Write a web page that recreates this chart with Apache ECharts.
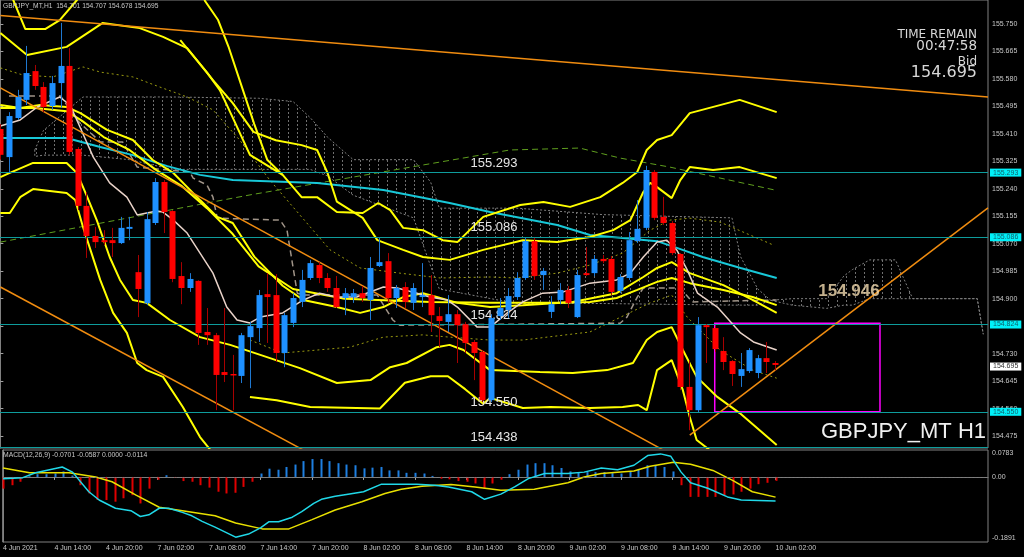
<!DOCTYPE html>
<html><head><meta charset="utf-8">
<script src="https://cdn.jsdelivr.net/npm/echarts/dist/echarts.min.js"></script>
<style>html,body{margin:0;padding:0;background:#000;}#c{width:1024px;height:557px;}</style>
</head><body><div id="c"></div><script>
// ---------- DATA ----------
const timeLabels = ['4 Jun 2021','4 Jun 14:00','4 Jun 20:00','7 Jun 02:00','7 Jun 08:00','7 Jun 14:00','7 Jun 20:00','8 Jun 02:00','8 Jun 08:00','8 Jun 14:00','8 Jun 20:00','9 Jun 02:00','9 Jun 08:00','9 Jun 14:00','9 Jun 20:00','10 Jun 02:00'];
const timeTickIdx = [0,6,12,18,24,30,36,42,48,54,60,66,72,78,84,90];
const priceTicks = [155.750,155.665,155.580,155.495,155.410,155.325,155.240,155.155,155.070,154.985,154.900,154.815,154.730,154.645,154.560,154.475];
// [open, high, low, close] per hourly bar
const ohlc = [
[155.425,155.440,155.330,155.345],[155.338,155.477,155.289,155.465],[155.459,155.546,155.453,155.524],[155.515,155.682,155.499,155.598],
[155.604,155.623,155.546,155.558],[155.555,155.570,155.477,155.493],[155.496,155.589,155.484,155.567],[155.567,155.753,155.490,155.620],
[155.620,155.675,155.344,155.354],[155.363,155.369,155.174,155.187],[155.187,155.230,155.026,155.094],[155.094,155.122,155.057,155.075],
[155.081,155.112,155.066,155.075],[155.081,155.119,155.029,155.072],[155.072,155.153,155.069,155.119],[155.116,155.153,155.081,155.122],
[154.982,155.035,154.843,154.930],[154.886,155.168,154.880,155.146],[155.134,155.273,155.128,155.261],[155.261,155.267,155.103,155.168],
[155.171,155.174,154.951,154.961],[154.970,155.013,154.883,154.933],[154.933,154.979,154.921,154.961],[154.955,154.957,154.757,154.794],
[154.797,154.871,154.757,154.787],[154.787,154.794,154.555,154.664],[154.673,154.871,154.642,154.664],[154.667,154.726,154.555,154.664],
[154.661,154.794,154.639,154.787],[154.781,154.828,154.623,154.815],[154.809,154.927,154.766,154.911],[154.914,154.979,154.763,154.905],
[154.911,154.976,154.704,154.732],[154.732,154.856,154.688,154.849],[154.825,154.917,154.812,154.902],[154.890,154.989,154.874,154.958],
[154.964,155.020,154.958,155.010],[155.004,155.013,154.948,154.964],[154.964,154.979,154.921,154.933],[154.933,154.970,154.871,154.874],
[154.902,154.933,154.849,154.917],[154.905,154.930,154.887,154.917],[154.917,154.939,154.890,154.902],[154.896,155.029,154.834,154.995],
[155.001,155.088,154.998,155.013],[155.016,155.041,154.887,154.902],[154.902,154.942,154.871,154.933],[154.936,154.951,154.871,154.890],
[154.887,154.948,154.865,154.933],[154.905,155.010,154.874,154.911],[154.911,154.973,154.797,154.849],[154.846,154.874,154.750,154.831],
[154.828,154.911,154.797,154.852],[154.852,154.865,154.701,154.818],[154.821,154.828,154.732,154.763],[154.766,154.772,154.648,154.732],
[154.735,154.741,154.580,154.586],[154.586,154.852,154.580,154.840],[154.846,154.902,154.834,154.871],[154.865,154.933,154.840,154.908],
[154.905,154.982,154.896,154.964],[154.964,155.088,154.958,155.078],[155.078,155.088,154.958,154.970],[154.973,154.995,154.927,154.986],
[154.859,154.908,154.840,154.883],[154.896,154.948,154.883,154.927],[154.927,154.939,154.871,154.887],[154.843,154.989,154.840,154.973],
[154.979,155.060,154.970,154.973],[154.979,155.035,154.970,155.023],[155.023,155.035,155.010,155.016],[155.023,155.032,154.911,154.921],
[154.924,154.976,154.917,154.967],[154.964,155.106,154.958,155.081],[155.078,155.205,155.072,155.116],[155.119,155.311,155.112,155.298],
[155.292,155.298,155.143,155.150],[155.153,155.215,155.128,155.134],[155.134,155.140,155.035,155.041],[155.038,155.041,154.617,154.627],
[154.627,154.710,154.493,154.555],[154.555,154.843,154.549,154.818],[154.818,154.821,154.701,154.812],[154.809,154.815,154.735,154.744],
[154.738,154.781,154.679,154.704],[154.707,154.710,154.630,154.667],[154.661,154.732,154.627,154.682],[154.676,154.747,154.670,154.741],
[154.670,154.726,154.654,154.716],[154.716,154.766,154.670,154.704],[154.701,154.707,154.678,154.695]
];
const osma = [-0.034,-0.024,-0.014,0.002,0.008,0.008,0.010,0.016,0.004,-0.024,-0.048,-0.067,-0.067,-0.072,-0.062,-0.053,-0.077,-0.034,-0.008,0.005,
-0.003,-0.012,-0.014,-0.024,-0.031,-0.043,-0.048,-0.046,-0.029,-0.014,0.010,0.024,0.021,0.029,0.036,0.046,0.052,0.052,0.046,0.040,
0.036,0.034,0.025,0.027,0.029,0.019,0.019,0.012,0.012,0.010,0.003,-0.005,-0.007,-0.012,-0.014,-0.019,-0.034,-0.019,-0.008,0.008,
0.021,0.036,0.040,0.040,0.034,0.026,0.016,0.014,0.014,0.014,0.014,0.011,0.010,0.016,0.021,0.034,0.034,0.029,0.016,-0.024,
-0.058,-0.058,-0.058,-0.058,-0.053,-0.051,-0.043,-0.034,-0.021,-0.017,-0.0114];
const macdMain = [[0,-0.005],[2.3,-0.002],[3.8,0.012],[6.9,0.029],[8.1,0.014],[10,-0.043],[11.2,-0.067],[13.1,-0.091],[14.9,-0.098],[16,-0.115],[17,-0.110],[18.2,-0.091],[19.3,-0.091],[20.9,-0.103],[22,-0.113],[23.2,-0.129],[24.7,-0.146],[27.1,-0.175],[28.6,-0.166],[30,-0.148],[31,-0.130],[32.1,-0.130],[33.7,-0.117],[34.8,-0.101],[36.2,-0.077],[37.1,-0.065],[38.7,-0.056],[40.2,-0.050],[42,-0.043],[44.1,-0.021],[48.2,-0.021],[50.3,-0.024],[51.9,-0.029],[54.6,-0.043],[56.1,-0.065],[58,-0.050],[59.6,-0.029],[61.2,-0.005],[63.1,0.010],[65.8,0.010],[67.7,0.014],[69.7,0.026],[71.6,0.021],[73.5,0.034],[75.1,0.062],[76.6,0.067],[77.8,0.060],[79,0.014],[80.1,-0.017],[82.1,-0.033],[84.4,-0.058],[86,-0.067],[90,-0.0701]];
const macdSignal = [[0,0.026],[3.1,0.012],[7.7,0.012],[10.8,0],[12.7,-0.014],[15.5,-0.053],[18.2,-0.088],[20.9,-0.098],[24.7,-0.113],[27.1,-0.134],[30.2,-0.151],[33.3,-0.151],[36,-0.124],[38.7,-0.096],[41.8,-0.072],[44.5,-0.048],[46.4,-0.036],[48.8,-0.027],[52.2,-0.022],[55,-0.029],[58,-0.039],[61.9,-0.036],[65.8,-0.017],[67.7,0],[69.7,0.010],[73.5,0.017],[75.4,0.031],[78.1,0.043],[80.1,0.037],[82.7,0.019],[85,-0.010],[87.3,-0.043],[90,-0.0587]];
const levels = [155.293,155.086,154.824,154.550,154.438];
const tagLevels = [155.293,155.086,154.824,154.550];
const bidPrice = 154.695;
const zoneBox = [[83,154.824],[102.2,154.550]];
const maFast = [[0,155.434],[2.3,155.453],[4.3,155.493],[6.9,155.524],[8.1,155.499],[9.3,155.428],[10.8,155.338],[12.7,155.258],[14.7,155.214],[15.9,155.159],[17,155.165],[18.2,155.171],[18.9,155.168],[20.1,155.143],[21.7,155.103],[23.2,155.041],[24.7,154.979],[26.3,154.874],[27.5,154.834],[29,154.825],[30.2,154.843],[32.8,154.856],[35.2,154.896],[37.1,154.917],[39.1,154.905],[41.4,154.905],[44.5,154.936],[46.1,154.933],[48.4,154.917],[49.9,154.905],[51.9,154.896],[53.1,154.874],[55.4,154.812],[56.9,154.812],[58.9,154.856],[60.7,154.890],[63,154.917],[65.4,154.921],[68.5,154.948],[71.6,154.958],[73.2,154.979],[74.7,155.029],[76.3,155.075],[77.4,155.081],[78.6,155.050],[79.8,154.989],[81,154.917],[83.3,154.874],[86,154.794],[87.5,154.766],[90.2,154.741]];
const maSlow = [[0,155.397],[7.7,155.397],[11.6,155.369],[15.4,155.344],[19.4,155.310],[23.2,155.283],[27,155.267],[30.2,155.264],[36.8,155.258],[44.5,155.236],[52.2,155.196],[56.9,155.168],[64.7,155.128],[68.5,155.097],[72.3,155.088],[76.3,155.078],[78.6,155.057],[81.6,155.029],[86,154.995],[90.2,154.964]];
const maGreen = [[0,155.075],[29,155.221],[59.2,155.360],[67.3,155.366],[72,155.335],[77.8,155.307],[90,155.236]];
const kijun = [[1,155.527],[7,155.527],[9,155.45],[11.6,155.385],[14.2,155.385],[15.9,155.307],[22,155.292],[22.4,155.273],[24,155.252],[24.7,155.214],[25.2,155.149],[32.5,155.143],[33.3,155.112],[34.5,154.917],[35.2,154.911],[43.8,154.911],[45.6,154.834],[46.4,154.818],[72,154.824],[72.8,154.843],[74,154.905],[74.7,154.933],[79,154.933],[80.4,154.890],[90.2,154.896]];
const envUpper = [[0,155.614],[2.6,155.592],[6.1,155.586],[9.6,155.617],[11.6,155.601],[15.4,155.586],[18.5,155.555],[21.7,155.524],[24.7,155.484],[27.8,155.391],[31.3,155.267],[34.8,155.159],[38.3,155.051],[41.8,154.995],[46.4,154.979],[51.1,154.964],[56.9,154.967],[60,154.964],[64.7,154.979],[68.5,155.004],[72.3,155.041],[75.5,155.112],[77.8,155.143],[80.1,155.149],[83.6,155.137],[89.8,155.066]];
const envLower = [[29,154.772],[32.8,154.732],[36.8,154.741],[40.6,154.750],[44.5,154.781],[49.1,154.788],[52.2,154.781],[56.9,154.772],[60.7,154.772],[68.5,154.797],[75.5,154.887],[78,154.911],[79.8,154.843],[83.6,154.741],[87.4,154.679],[90.2,154.654]];
const bbUp3 = [[0,155.90],[1.5,155.824],[2.9,155.734],[5.2,155.734],[6.9,155.762],[8.9,155.824],[10,155.90]];
const bbUp3a = [[23.7,155.824],[25.3,155.762],[26.5,155.68],[28,155.56],[29.5,155.44],[31,155.33],[32.8,155.283]];
const bbUp3b = [[20.9,155.70],[24,155.60],[25.5,155.545],[27,155.46],[29,155.345],[32.8,155.283],[35,155.214],[36.8,155.214],[39.1,155.168],[42.1,155.165],[43.9,155.196],[45.3,155.174],[46.8,155.119],[49.1,155.112],[51.4,155.081],[53.1,155.075],[56.1,155.153],[60.4,155.190],[63.1,155.199],[66.2,155.184],[69.7,155.214],[72.3,155.258],[74,155.292],[75.1,155.360],[76.3,155.391],[78,155.406],[80.1,155.474],[85.9,155.515],[90.2,155.477]];
const bbUp2 = [[0,155.722],[3.1,155.654],[7.7,155.679],[11.9,155.753],[16.2,155.737],[18.9,155.710],[21.7,155.675],[24.7,155.576],[27,155.505],[29.4,155.416],[32,155.39],[35,155.375],[36.8,155.36],[38,155.29],[39.1,155.20],[42.1,155.15],[43.8,155.081],[46.8,155.051],[49.1,155.029],[52.2,155.020],[56.1,155.051],[60.7,155.081],[64.7,155.075],[68.5,155.091],[71.2,155.112],[73.2,155.143],[74.7,155.230],[75.5,155.258],[76.3,155.245],[78,155.211],[79,155.267],[80.1,155.307],[82.8,155.298],[85.9,155.307],[90.2,155.273]];
const bbUp1 = [[0,155.499],[2.3,155.490],[4.6,155.499],[7.7,155.493],[9.3,155.474],[12.4,155.422],[15.4,155.391],[17.7,155.329],[20.1,155.289],[23.2,155.205],[25.2,155.153],[27,155.134],[29.5,155.03],[32.8,154.94],[35.2,154.896],[39.1,154.874],[41.8,154.856],[44.5,154.874],[46.8,154.905],[49.1,154.917],[50.7,154.905],[53.1,154.887],[56.9,154.874],[60.7,154.880],[66.5,154.890],[71.6,154.917],[74.7,154.967],[76.3,154.995],[78,155.013],[80.1,154.979],[84,154.942],[87.4,154.896],[90.2,154.856]];
const bbMid = [[0,155.49],[4,155.49],[7.7,155.48],[9.5,155.45],[12,155.40],[15,155.36],[18,155.30],[21,155.25],[24,155.18],[27,155.10],[30,155.0],[34,154.93],[40,154.90],[50,154.89],[56.9,154.887],[64.7,154.887],[68.5,154.890],[71.6,154.902],[74,154.927],[76.3,154.952],[78,154.964],[80.1,154.948],[84,154.927],[87.4,154.905],[90.2,154.880]];
const bbLow1 = [[0,155.276],[1.1,155.289],[3.8,155.320],[7.7,155.320],[8.9,155.289],[10.1,155.214],[11.2,155.143],[12.7,155.029],[13.9,154.958],[15.4,154.896],[17,154.887],[19.7,154.834],[23.2,154.781],[26.7,154.757],[30.2,154.726],[34.8,154.685],[39.1,154.639],[43,154.648],[45.3,154.688],[47.2,154.701],[50.7,154.750],[52.2,154.757],[53.8,154.741],[56.9,154.679],[62.7,154.673],[66.5,154.670],[70.5,154.679],[73.5,154.701],[75.1,154.772],[76.3,154.797],[78,154.812],[79.3,154.741],[80.9,154.658],[83.3,154.596],[85.9,154.546],[90.2,154.447]];
const bbLow2 = [[0,155.165],[1.1,155.165],[2.3,155.214],[3.8,155.239],[7.7,155.227],[8.7,155.205],[9.6,155.122],[11.6,154.958],[13.1,154.856],[14.7,154.794],[15.9,154.701],[17,154.679],[18.9,154.658],[21.2,154.565],[23.2,154.472],[24.4,154.432]];
const bbLow2b = [[29,154.596],[32.1,154.586],[36,154.565],[44.1,154.560],[47,154.64],[50,154.66],[52,154.66],[54,154.62],[56.1,154.575],[56.9,154.593],[60.7,154.562],[63.9,154.565],[68.5,154.562],[72.3,154.565],[74.1,154.571],[75.1,154.555],[76.3,154.679],[78,154.710],[79.3,154.617],[80.1,154.534],[80.9,154.463],[82.4,154.432]];
const trendLines = [
  [[0,155.776],[114.75,155.524]],
  [[0,155.552],[77,154.432]],
  [[0,154.936],[40,154.363]],
  [[80.1,154.478],[114.75,155.181]]
];
const cloudIdx = [4,5,9.6,15,20,30,34,36,38,41,48,50,51,60,70,85,86,88,89.5,92,96,98,99,101,104,105,106,113.5,114.2];
const cloudTop = [155.36,155.42,155.524,155.524,155.524,155.52,155.51,155.46,155.40,155.33,155.33,155.26,155.18,155.18,155.16,155.15,155.03,154.93,154.895,154.90,154.90,154.97,154.99,155.02,155.02,154.96,154.90,154.90,154.79];
const cloudBot = [155.34,155.344,155.344,155.33,155.30,155.30,155.30,155.30,155.28,155.22,155.15,155.0,154.93,154.885,154.885,154.88,154.88,154.88,154.895,154.88,154.87,154.88,154.88,154.90,154.90,154.90,154.90,154.90,154.79];
const lastLevelLabel = 154.946;

// ---------- CHART ----------
const XMIN = -0.042, XMAX = 114.75;
const chart = echarts.init(document.getElementById('c'), null, {renderer:'canvas'});
const YEL = '#ffff00';
function hatch(){const c=document.createElement('canvas');c.width=9;c.height=4;const g=c.getContext('2d');g.fillStyle='#707070';g.fillRect(0,0,1,2);return c;}
const hatchImg = hatch();
function lineSeries(data,color,width,type,z){return {type:'line',xAxisIndex:0,yAxisIndex:0,data:data,showSymbol:false,symbol:'none',silent:true,z:z||3,lineStyle:{color:color,width:width,type:type||'solid'}};}

const levelLines = [];
levels.forEach(v=>{
  levelLines.push({yAxis:v,lineStyle:{color:'#0e9c9c',width:1,type:'solid'},label:{show:true,position:'insideMiddleTop',distance:3,formatter:v.toFixed(3),color:'#e6e6e6',fontSize:13,fontFamily:'Liberation Sans'}});
});
const tagLines = [];
tagLevels.forEach(v=>{
  tagLines.push({yAxis:v,lineStyle:{color:'rgba(0,0,0,0)',width:0},label:{show:true,position:'end',distance:2,formatter:v.toFixed(3),backgroundColor:'#00f0f8',color:'#10606c',fontSize:7,fontFamily:'Liberation Sans',padding:[1,3,0,3]}});
});
tagLines.push({yAxis:bidPrice,lineStyle:{color:'rgba(0,0,0,0)',width:0},label:{show:true,position:'end',distance:2,formatter:bidPrice.toFixed(3),backgroundColor:'#ffffff',color:'#303030',fontSize:7,fontFamily:'Liberation Sans',padding:[1,3,0,3]}});

const series = [
  {type:'custom',xAxisIndex:0,yAxisIndex:0,z:1,silent:true,data:[[0]],clip:true,
   renderItem:(p,api)=>{
     const pts=[];
     for(let k=0;k<cloudIdx.length;k++) pts.push(api.coord([cloudIdx[k],cloudTop[k]]));
     for(let k=cloudIdx.length-1;k>=0;k--) pts.push(api.coord([cloudIdx[k],cloudBot[k]]));
     return {type:'polygon',shape:{points:pts},style:{fill:{image:hatchImg,repeat:'repeat'},stroke:'#808080',lineWidth:1,lineDash:[2,2]}};
   }},
  lineSeries(maGreen,'#5f9e1e',1,[6,4]),
  lineSeries(envUpper,'#9a9a10',1,[2,3]),
  lineSeries(envLower,'#9a9a10',1,[2,3]),
  lineSeries(kijun,'#a09488',1.5,[6,4]),
  lineSeries(maSlow,'#18c8d8',2),
  lineSeries(bbUp3,YEL,2), lineSeries(bbUp3a,YEL,2), lineSeries(bbUp3b,YEL,2), lineSeries(bbUp2,YEL,2), lineSeries(bbUp1,YEL,2),
  lineSeries(bbMid,YEL,2), lineSeries(bbLow1,YEL,2), lineSeries(bbLow2,YEL,2), lineSeries(bbLow2b,YEL,2),
  lineSeries(maFast,'#e8d2c8',1.5),
  ...trendLines.map(t=>lineSeries(t,'#f08c10',1.5,'solid',4)),
  {type:'line',xAxisIndex:0,yAxisIndex:0,data:[],silent:true,z:5,
   markLine:{silent:true,symbol:['none','none'],animation:false,data:levelLines},
   markArea:{silent:true,data:[[{coord:zoneBox[0],itemStyle:{color:'rgba(0,0,0,0)',borderColor:'#ff00ff',borderWidth:1.5}},{coord:zoneBox[1]}]]}},
  {type:'line',xAxisIndex:0,yAxisIndex:0,data:[],silent:true,z:8,clip:false,
   markLine:{silent:true,symbol:['none','none'],animation:false,data:tagLines}},
  {type:'custom',xAxisIndex:0,yAxisIndex:0,z:6,silent:true,clip:true,
   data:ohlc.map((d,i)=>[i,d[0],d[1],d[2],d[3]]),encode:{x:0,y:[1,2,3,4]},
   renderItem:(p,api)=>{
     const i=api.value(0),o=api.value(1),h=api.value(2),l=api.value(3),c=api.value(4);
     const pO=api.coord([i,o]),pC=api.coord([i,c]),pH=api.coord([i,h]),pL=api.coord([i,l]);
     const up=c>=o; const x=Math.round(pO[0]);
     const top=Math.min(pO[1],pC[1]),bot=Math.max(pO[1],pC[1]);
     return {type:'group',children:[
       {type:'line',shape:{x1:x+0.5,y1:pH[1],x2:x+0.5,y2:pL[1]},style:{stroke:up?'#1f78d0':'#a80000',lineWidth:1}},
       {type:'rect',shape:{x:x-2.5,y:top,width:6,height:Math.max(bot-top,1.5)},style:{fill:up?'#1e90ff':'#ff0000'}}
     ]};
   }},
  {type:'scatter',xAxisIndex:0,yAxisIndex:0,z:7,silent:true,symbolSize:0,data:[[98.6,lastLevelLabel]],
   label:{show:true,position:'inside',offset:[0,8],formatter:lastLevelLabel.toFixed(3),color:'#f4dcb0',fontSize:17,fontWeight:'bold',fontFamily:'Liberation Sans'}},
  // MACD
  {type:'custom',xAxisIndex:1,yAxisIndex:1,z:3,silent:true,clip:true,
   data:osma.map((v,i)=>[i,v]),encode:{x:0,y:1},
   renderItem:(p,api)=>{
     const i=api.value(0),v=api.value(1);
     const a=api.coord([i,v]),b=api.coord([i,0]);const x=Math.round(a[0]);
     return {type:'rect',shape:{x:x-0.5,y:Math.min(a[1],b[1]),width:2,height:Math.abs(a[1]-b[1])},style:{fill:v>=0?'#1e7fe0':'#e00000'}};
   }},
  {type:'line',xAxisIndex:1,yAxisIndex:1,data:[],silent:true,
   markLine:{silent:true,symbol:['none','none'],animation:false,data:[{yAxis:0,lineStyle:{color:'#7a7a7a',width:1,type:[2,2]},label:{show:false}}]}},
  {type:'line',xAxisIndex:1,yAxisIndex:1,data:macdSignal,showSymbol:false,silent:true,z:4,lineStyle:{color:'#e8e000',width:1.5}},
  {type:'line',xAxisIndex:1,yAxisIndex:1,data:macdMain,showSymbol:false,silent:true,z:5,lineStyle:{color:'#20d8e8',width:1.5}}
];

const axisTxt = {color:'#c8c8c8',fontSize:7,fontFamily:'Liberation Sans'};
const tFont = (fs,lh)=>({color:'#d8d8d8',fontSize:fs,lineHeight:lh,fontWeight:'normal',fontFamily:'DejaVu Sans'});
chart.setOption({
  backgroundColor:'#000000',
  animation:false,
  title:[
    {text:'GBPJPY_MT,H1  154.701 154.707 154.678 154.695',left:3,top:3,padding:0,textStyle:{color:'#c8c8c8',fontSize:6.7,fontWeight:'normal',fontFamily:'Liberation Sans'}},
    {text:'MACD(12,26,9) -0.0701 -0.0587 0.0000 -0.0114',left:3,top:452,padding:0,textStyle:{color:'#c8c8c8',fontSize:6.8,fontWeight:'normal',fontFamily:'Liberation Sans'}},
    {text:'TIME REMAIN',right:47,top:28,padding:0,textStyle:tFont(12,14)},
    {text:'00:47:58',right:47,top:39,padding:0,textStyle:tFont(13.5,15)},
    {text:'Bid',right:47,top:55,padding:0,textStyle:tFont(12,14)},
    {text:'154.695',right:47,top:64,padding:0,textStyle:tFont(16,18)},
    {text:'GBPJPY_MT H1',right:38,top:421,padding:0,textStyle:{color:'#f0f0f0',fontSize:22,fontWeight:'normal',fontFamily:'Liberation Sans'}}
  ],
  grid:[
    {left:0,top:0,width:988,height:448,show:true,borderColor:'#808080',borderWidth:1,backgroundColor:'transparent'},
    {left:0,top:450,width:988,height:92,show:true,borderColor:'#808080',borderWidth:1,backgroundColor:'transparent'}
  ],
  xAxis:[
    {type:'value',gridIndex:0,min:XMIN,max:XMAX,show:false,splitLine:{show:false}},
    {type:'value',gridIndex:1,min:XMIN,max:XMAX,splitLine:{show:false},
     axisLine:{show:true,lineStyle:{color:'#808080'}},
     axisTick:{show:true,customValues:timeTickIdx,length:3,lineStyle:{color:'#a0a0a0'}},
     axisLabel:Object.assign({customValues:timeTickIdx,align:'left',margin:3,
       formatter:(v)=>timeLabels[timeTickIdx.indexOf(Math.round(v))]||''},axisTxt)}
  ],
  yAxis:[
    {type:'value',gridIndex:0,position:'right',min:154.438,max:155.824,splitLine:{show:false},
     axisLine:{show:true,lineStyle:{color:'#808080'}},
     axisTick:{show:true,customValues:priceTicks,length:3,lineStyle:{color:'#a0a0a0'}},
     axisLabel:Object.assign({customValues:priceTicks,margin:4,formatter:(v)=>v.toFixed(3)},axisTxt)},
    {type:'value',gridIndex:1,position:'right',min:-0.1891,max:0.0783,splitLine:{show:false},
     axisLine:{show:true,lineStyle:{color:'#808080'}},
     axisTick:{show:false},
     axisLabel:Object.assign({customValues:[-0.1891,0,0.0783],margin:4,verticalAlignMaxLabel:'top',verticalAlignMinLabel:'bottom',
       formatter:(v)=> v>0.05?'0.0783':(v<-0.1?'-0.1891':'0.00')},axisTxt)}
  ],
  series:series
});
</script></body></html>
